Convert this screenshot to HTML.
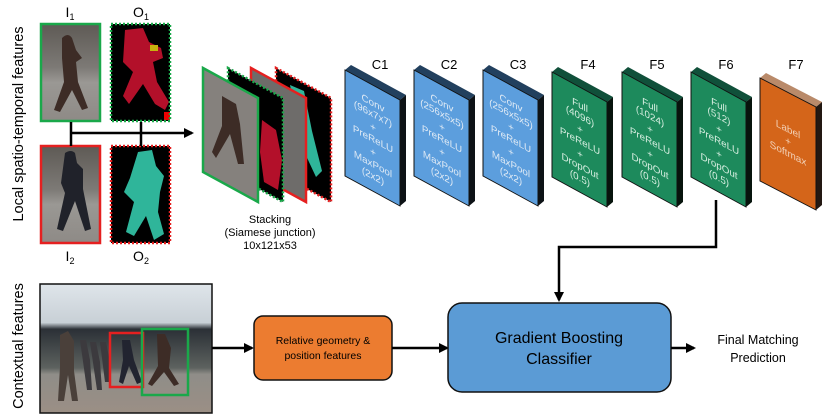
<!DOCTYPE html>
<html><head><meta charset="utf-8"><style>
html,body{margin:0;padding:0;background:#fff;}
svg{display:block;font-family:"Liberation Sans",sans-serif;}
</style></head><body>
<svg width="830" height="415" viewBox="0 0 830 415" xmlns="http://www.w3.org/2000/svg">
<defs>
<marker id="ah" markerWidth="10" markerHeight="10" refX="8" refY="5" orient="auto" markerUnits="userSpaceOnUse">
<path d="M0,0 L10,5 L0,10 z" fill="#000"/></marker>
<linearGradient id="ph" x1="0" y1="0" x2="0" y2="1">
<stop offset="0" stop-color="#5e5a55"/><stop offset="0.45" stop-color="#7d7a76"/><stop offset="0.6" stop-color="#9a9894"/><stop offset="1" stop-color="#8e8a86"/></linearGradient>
<linearGradient id="sc" x1="0" y1="0" x2="0" y2="1">
<stop offset="0" stop-color="#dfe5ea"/><stop offset="0.3" stop-color="#c8d0d6"/><stop offset="0.35" stop-color="#2b3036"/><stop offset="0.65" stop-color="#5d625f"/><stop offset="0.7" stop-color="#8f8d88"/><stop offset="1" stop-color="#9b8f85"/></linearGradient>
</defs>

<text transform="translate(23,124) rotate(-90)" text-anchor="middle" font-size="14.5" fill="#000">Local spatio-temporal features</text>
<text transform="translate(23,346) rotate(-90)" text-anchor="middle" font-size="14.5" fill="#000">Contextual features</text>

<rect x="41" y="24" width="59" height="97" fill="url(#ph)"/>
<path d="M62,38 q6,-6 10,0 l4,12 l6,8 l-6,4 l2,20 l10,26 l-6,2 l-10,-20 l-12,22 l-6,-2 l10,-28 l-2,-24 z" fill="#3d2c26"/>
<rect x="41" y="24" width="59" height="97" fill="none" stroke="#1aa84a" stroke-width="2.5"/>
<rect x="111" y="24" width="59" height="97" fill="#000"/>
<path d="M125,30 l18,-2 l6,14 l12,6 l2,10 l-10,4 l4,20 l12,20 l-4,8 l-10,-6 l-12,-20 l-14,20 l-6,-8 l10,-24 l-10,-10 z" fill="#b3102a"/>
<rect x="150" y="45" width="8" height="6" fill="#c8b20e"/><rect x="164" y="112" width="6" height="8" fill="#e00"/>
<rect x="111" y="24" width="59" height="97" fill="none" stroke="#1aa84a" stroke-width="2.5" stroke-dasharray="2,2"/>
<rect x="41" y="146" width="59" height="97" fill="url(#ph)"/>
<path d="M65,153 q6,-4 10,0 l2,10 l6,6 l0,20 l8,40 l-6,2 l-10,-30 l-12,30 l-6,-2 l8,-36 l-4,-10 z" fill="#20222a"/>
<rect x="41" y="146" width="59" height="97" fill="none" stroke="#e52020" stroke-width="2.5"/>
<rect x="111" y="146" width="59" height="97" fill="#000"/>
<path d="M138,152 l14,-2 l4,16 l8,10 l-4,16 l-2,20 l6,22 l-10,6 l-8,-24 l-12,20 l-8,-4 l8,-30 l-10,-10 l6,-14 z" fill="#2fb59a"/>
<rect x="111" y="146" width="59" height="97" fill="none" stroke="#e52020" stroke-width="2.5" stroke-dasharray="2,2"/>

<text x="70" y="17" text-anchor="middle" font-size="14">I<tspan font-size="9" dy="3">1</tspan></text>
<text x="141" y="17" text-anchor="middle" font-size="14">O<tspan font-size="9" dy="3">1</tspan></text>
<text x="70" y="261" text-anchor="middle" font-size="14">I<tspan font-size="9" dy="3">2</tspan></text>
<text x="141" y="261" text-anchor="middle" font-size="14">O<tspan font-size="9" dy="3">2</tspan></text>

<path d="M71,122 V146 M141,122 V146" stroke="#000" stroke-width="2.5"/>
<line x1="71" y1="133" x2="192" y2="133" stroke="#000" stroke-width="2.5" marker-end="url(#ah)"/>

<polygon points="276,68 331,98 331,202 276,172" fill="#000"/>
<path d="M290,85 l14,6 l8,40 l10,40 l-6,6 l-14,-30 z" fill="#2fb59a"/>
<polygon points="276,68 331,98 331,202 276,172" fill="none" stroke="#e52020" stroke-width="2.5" stroke-dasharray="2,2"/>
<polygon points="251,68 306,98 306,202 251,172" fill="#6e6c6a"/>
<polygon points="251,68 306,98 306,202 251,172" fill="none" stroke="#e52020" stroke-width="2.5"/>
<polygon points="228,68 283,98 283,202 228,172" fill="#000"/>
<path d="M262,120 l14,10 l6,30 l-4,30 l-14,-8 l-4,-30 z" fill="#b3102a"/>
<polygon points="228,68 283,98 283,202 228,172" fill="none" stroke="#1aa84a" stroke-width="2.5" stroke-dasharray="2,2"/>
<polygon points="203,68 258,98 258,202 203,172" fill="#85817d"/>
<path d="M222,96 l14,8 l4,20 l4,40 l-6,0 l-8,-30 l-14,24 l-4,-6 l10,-26 z" fill="#3d2c26"/>
<polygon points="203,68 258,98 258,202 203,172" fill="none" stroke="#1aa84a" stroke-width="2.5"/>

<text x="270" y="223" text-anchor="middle" font-size="11">Stacking</text>
<text x="270" y="236" text-anchor="middle" font-size="11">(Siamese junction)</text>
<text x="270" y="249" text-anchor="middle" font-size="11">10x121x53</text>

<g font-size="9.8" fill="#dfeaf5" text-anchor="middle">
<polygon points="345,70 351,65 406,95 400,100" fill="#22405e"/>
<polygon points="400,100 406,95 406,201 400,206" fill="#0d1216"/>
<g transform="translate(345,70) skewY(28.6)"><rect width="55" height="106" fill="#5c9edd" stroke="#111" stroke-width="1"/>
<text x="28" y="21">Conv</text><text x="28" y="32">(96x7x7)</text><text x="28" y="45">+</text><text x="28" y="57">PreReLU</text><text x="28" y="70">+</text><text x="28" y="82">MaxPool</text><text x="28" y="94">(2x2)</text></g>
<polygon points="414,70 420,65 475,95 469,100" fill="#22405e"/>
<polygon points="469,100 475,95 475,201 469,206" fill="#0d1216"/>
<g transform="translate(414,70) skewY(28.6)"><rect width="55" height="106" fill="#5c9edd" stroke="#111" stroke-width="1"/>
<text x="28" y="21">Conv</text><text x="28" y="32">(256x5x5)</text><text x="28" y="45">+</text><text x="28" y="57">PreReLU</text><text x="28" y="70">+</text><text x="28" y="82">MaxPool</text><text x="28" y="94">(2x2)</text></g>
<polygon points="483,70 489,65 544,95 538,100" fill="#22405e"/>
<polygon points="538,100 544,95 544,201 538,206" fill="#0d1216"/>
<g transform="translate(483,70) skewY(28.6)"><rect width="55" height="106" fill="#5c9edd" stroke="#111" stroke-width="1"/>
<text x="28" y="21">Conv</text><text x="28" y="32">(256x5x5)</text><text x="28" y="45">+</text><text x="28" y="57">PreReLU</text><text x="28" y="70">+</text><text x="28" y="82">MaxPool</text><text x="28" y="94">(2x2)</text></g>
</g>
<g font-size="9.8" fill="#d6eee0" text-anchor="middle">
<polygon points="552,72 558,67 613,97 607,102" fill="#10503a"/>
<polygon points="607,102 613,97 613,202 607,207" fill="#07140d"/>
<g transform="translate(552,72) skewY(28.6)"><rect width="55" height="105" fill="#1d8a5c" stroke="#111" stroke-width="1"/>
<text x="28" y="21">Full</text><text x="28" y="32">(4096)</text><text x="28" y="45">+</text><text x="28" y="57">PreReLU</text><text x="28" y="70">+</text><text x="28" y="82">DropOut</text><text x="28" y="94">(0.5)</text></g>
<polygon points="622,72 628,67 683,97 677,102" fill="#10503a"/>
<polygon points="677,102 683,97 683,202 677,207" fill="#07140d"/>
<g transform="translate(622,72) skewY(28.6)"><rect width="55" height="105" fill="#1d8a5c" stroke="#111" stroke-width="1"/>
<text x="28" y="21">Full</text><text x="28" y="32">(1024)</text><text x="28" y="45">+</text><text x="28" y="57">PreReLU</text><text x="28" y="70">+</text><text x="28" y="82">DropOut</text><text x="28" y="94">(0.5)</text></g>
<polygon points="691,72 697,67 752,97 746,102" fill="#10503a"/>
<polygon points="746,102 752,97 752,202 746,207" fill="#07140d"/>
<g transform="translate(691,72) skewY(28.6)"><rect width="55" height="105" fill="#1d8a5c" stroke="#111" stroke-width="1"/>
<text x="28" y="21">Full</text><text x="28" y="32">(512)</text><text x="28" y="45">+</text><text x="28" y="57">PreReLU</text><text x="28" y="70">+</text><text x="28" y="82">DropOut</text><text x="28" y="94">(0.5)</text></g>
</g>
<polygon points="760,78 766,73 822,102 816,107" fill="#b98a6a"/>
<polygon points="816,107 822,102 822,205 816,210" fill="#231812"/>
<g transform="translate(760,78) skewY(27.4)" font-size="10" fill="#f3d2b8" text-anchor="middle"><rect width="56" height="103" fill="#d4651a" stroke="#111" stroke-width="1"/>
<text x="28" y="40">Label</text><text x="28" y="52">+</text><text x="28" y="64">Softmax</text></g>

<g font-size="13" text-anchor="middle" fill="#000">
<text x="380" y="69">C1</text><text x="449" y="69">C2</text><text x="518" y="69">C3</text>
<text x="588" y="69">F4</text><text x="657" y="69">F5</text><text x="726" y="69">F6</text><text x="796" y="69">F7</text>
</g>

<path d="M716,200 V247 H559 V300" fill="none" stroke="#000" stroke-width="2.5" marker-end="url(#ah)"/>

<rect x="40" y="284" width="172" height="129" fill="url(#sc)" stroke="#111" stroke-width="1.5"/>
<path d="M60,335 l8,-4 l6,10 l0,30 l4,30 l-6,0 l-4,-26 l-4,26 l-6,0 l2,-34 z" fill="#4a403a"/>
<path d="M80,340 l6,0 l4,20 l2,30 l-5,0 z M90,342 l6,0 l4,20 l2,28 l-5,0 z M100,342 l6,0 l4,20 l0,20 l-5,0 z" fill="#3c3a3e"/>
<path d="M122,340 l8,0 l4,20 l8,22 l-5,2 l-8,-18 l-6,18 l-4,-2 l4,-22 z" fill="#222430"/>
<path d="M157,334 l8,0 l6,14 l-2,20 l10,16 l-5,2 l-10,-14 l-12,14 l-4,-2 l10,-18 z" fill="#3d2c26"/>
<rect x="110" y="333" width="33" height="54" fill="none" stroke="#e52020" stroke-width="2.5"/>
<rect x="142" y="329" width="46" height="66" fill="none" stroke="#1aa84a" stroke-width="2.5"/>

<line x1="212" y1="348" x2="252" y2="348" stroke="#000" stroke-width="2.5" marker-end="url(#ah)"/>
<rect x="254" y="316" width="138" height="64" rx="9" fill="#ec7c30" stroke="#111" stroke-width="1.5"/>
<text x="323" y="344" text-anchor="middle" font-size="10.5">Relative geometry &amp;</text>
<text x="323" y="359" text-anchor="middle" font-size="10.5">position features</text>
<line x1="392" y1="348" x2="447" y2="348" stroke="#000" stroke-width="2.5" marker-end="url(#ah)"/>

<rect x="448" y="303" width="223" height="89" rx="14" fill="#5b9bd5" stroke="#111" stroke-width="1.5"/>
<text x="559" y="343" text-anchor="middle" font-size="16">Gradient Boosting</text>
<text x="559" y="364" text-anchor="middle" font-size="16">Classifier</text>
<line x1="671" y1="348" x2="694" y2="348" stroke="#000" stroke-width="2.5" marker-end="url(#ah)"/>
<text x="758" y="344" text-anchor="middle" font-size="12.5">Final Matching</text>
<text x="758" y="362" text-anchor="middle" font-size="12.5">Prediction</text>
</svg>
</body></html>
